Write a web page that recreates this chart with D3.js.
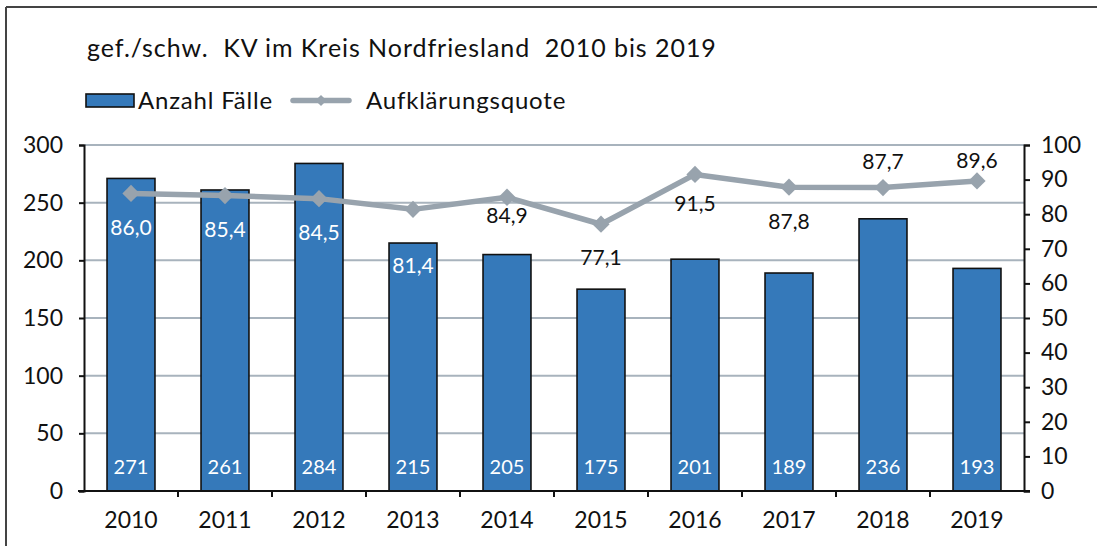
<!DOCTYPE html>
<html>
<head>
<meta charset="utf-8">
<script src="https://cdn.jsdelivr.net/npm/d3@7"></script>
<style>
  html, body { margin: 0; padding: 0; background: #fff; }
  svg { display: block; font-family: Lato, "Open Sans", sans-serif; }
</style>
</head>
<body>
<svg id="chart" width="1097" height="546"></svg>
<script>
// Data: cases (bars, left axis) and clearance rate in % (line, right axis)
const years = ["2010", "2011", "2012", "2013", "2014", "2015", "2016", "2017", "2018", "2019"];
const cases = [271, 261, 284, 215, 205, 175, 201, 189, 236, 193];
const rate = [86.0, 85.4, 84.5, 81.4, 84.9, 77.1, 91.5, 87.8, 87.7, 89.6];
const leftTicks = [0, 50, 100, 150, 200, 250, 300];
const rightTicks = [0, 10, 20, 30, 40, 50, 60, 70, 80, 90, 100];

// Where each rate label sits relative to its point (vertical offset in px)
const rateLabelDy = [34, 34, 34, 56, 18, 33, 29, 34, -26, -20];
const rateLabelWhite = [true, true, true, true, false, false, false, false, false, false];

const svg = d3.select("#chart");
const W = 1097, H = 546;
const plot = { left: 84, right: 1024, top: 145, bottom: 491 };
const FONT = "Lato, 'Open Sans', sans-serif";
const BLUE = "#3579BA", GREY = "#98A3AD", INK = "#111";

const fmt = v => d3.format(".1f")(v).replace(".", ",");

// Frame (top and left edges)
svg.append("line").attr("x1", 6).attr("x2", W).attr("y1", 7).attr("y2", 7)
  .attr("stroke", "#444").attr("stroke-width", 2);
svg.append("line").attr("x1", 6).attr("x2", 6).attr("y1", 7).attr("y2", H)
  .attr("stroke", "#444").attr("stroke-width", 2);

// Title
svg.append("text").attr("x", 87).attr("y", 57)
  .attr("font-size", 25).attr("letter-spacing", 0.95).attr("fill", INK)
  .attr("xml:space", "preserve")
  .text("gef./schw.  KV im Kreis Nordfriesland  2010 bis 2019");

// Scales
const x = d3.scaleBand().domain(years).range([plot.left, plot.right]).paddingInner(0.49).paddingOuter(0.245);
const xb = d3.scaleBand().domain(years).range([plot.left, plot.right]);
const yL = d3.scaleLinear().domain([0, 300]).range([plot.bottom, plot.top]);
const yR = d3.scaleLinear().domain([0, 100]).range([plot.bottom, plot.top]);

// Gridlines
svg.append("g").selectAll("line").data(leftTicks.filter(d => d > 0)).join("line")
  .attr("x1", plot.left).attr("x2", plot.right)
  .attr("y1", d => yL(d)).attr("y2", d => yL(d))
  .attr("stroke", "#A8B3BD").attr("stroke-width", 2);

// Bars
svg.append("g").selectAll("rect").data(years).join("rect")
  .attr("x", d => x(d)).attr("width", x.bandwidth())
  .attr("y", (d, i) => yL(cases[i])).attr("height", (d, i) => plot.bottom - yL(cases[i]))
  .attr("fill", BLUE).attr("stroke", INK).attr("stroke-width", 1.6);

// Bar value labels
svg.append("g").selectAll("text").data(years).join("text")
  .attr("x", d => x(d) + x.bandwidth() / 2).attr("y", 474)
  .attr("text-anchor", "middle").attr("font-size", 20).attr("fill", "#fff")
  .text((d, i) => cases[i]);

// Axes
const gL = svg.append("g").attr("transform", `translate(${plot.left},0)`)
  .call(d3.axisLeft(yL).tickValues(leftTicks).tickSize(5).tickPadding(16));
const gR = svg.append("g").attr("transform", `translate(${plot.right},0)`)
  .call(d3.axisRight(yR).tickValues(rightTicks).tickSize(6).tickPadding(11));
const gB = svg.append("g").attr("transform", `translate(0,${plot.bottom})`)
  .call(d3.axisBottom(xb).tickSize(0).tickPadding(21));
[gL, gR, gB].forEach(g => {
  g.select(".domain").attr("stroke", INK).attr("stroke-width", 2);
  g.selectAll(".tick line").attr("stroke", INK).attr("stroke-width", 2);
  g.selectAll(".tick text").attr("font-size", 23).attr("fill", INK).attr("font-family", FONT);
});
gB.select(".domain").attr("d", `M${plot.left - 6},0H${plot.right + 6}`);
// Category boundary ticks on the bottom axis
svg.append("g").selectAll("line").data(years.slice(1)).join("line")
  .attr("x1", d => xb(d)).attr("x2", d => xb(d))
  .attr("y1", plot.bottom).attr("y2", plot.bottom + 6)
  .attr("stroke", INK).attr("stroke-width", 2);

// Clearance rate line
const cx = (d, i) => xb(years[i]) + xb.bandwidth() / 2;
const line = d3.line().x((d, i) => cx(d, i)).y(d => yR(d));
svg.append("path").datum(rate).attr("d", line)
  .attr("fill", "none").attr("stroke", GREY).attr("stroke-width", 5.5)
  .attr("stroke-linejoin", "round");
const diamond = d3.symbol().type(d3.symbolDiamond2).size(190);
svg.append("g").selectAll("path").data(rate).join("path")
  .attr("transform", (d, i) => `translate(${cx(d, i)},${yR(d)})`)
  .attr("d", diamond).attr("fill", GREY);

// Rate labels
svg.append("g").selectAll("text").data(rate).join("text")
  .attr("x", (d, i) => cx(d, i)).attr("y", (d, i) => yR(d) + rateLabelDy[i] + 7.5)
  .attr("text-anchor", "middle").attr("font-size", 21)
  .attr("fill", (d, i) => rateLabelWhite[i] ? "#fff" : INK)
  .text(d => fmt(d));

// Legend
const leg = svg.append("g");
leg.append("rect").attr("x", 86).attr("y", 94).attr("width", 48).attr("height", 13)
  .attr("fill", BLUE).attr("stroke", INK).attr("stroke-width", 1.6);
leg.append("text").attr("x", 138).attr("y", 109).attr("font-size", 24).attr("letter-spacing", 0.8)
  .attr("fill", INK).text("Anzahl Fälle");
leg.append("line").attr("x1", 293).attr("x2", 349).attr("y1", 100.5).attr("y2", 100.5)
  .attr("stroke", GREY).attr("stroke-width", 5.5).attr("stroke-linecap", "round");
leg.append("path").attr("transform", "translate(321,100.5)").attr("d", d3.symbol().type(d3.symbolDiamond2).size(80))
  .attr("fill", GREY);
leg.append("text").attr("x", 366).attr("y", 109).attr("font-size", 24).attr("letter-spacing", 0.8)
  .attr("fill", INK).text("Aufklärungsquote");
</script>
</body>
</html>
